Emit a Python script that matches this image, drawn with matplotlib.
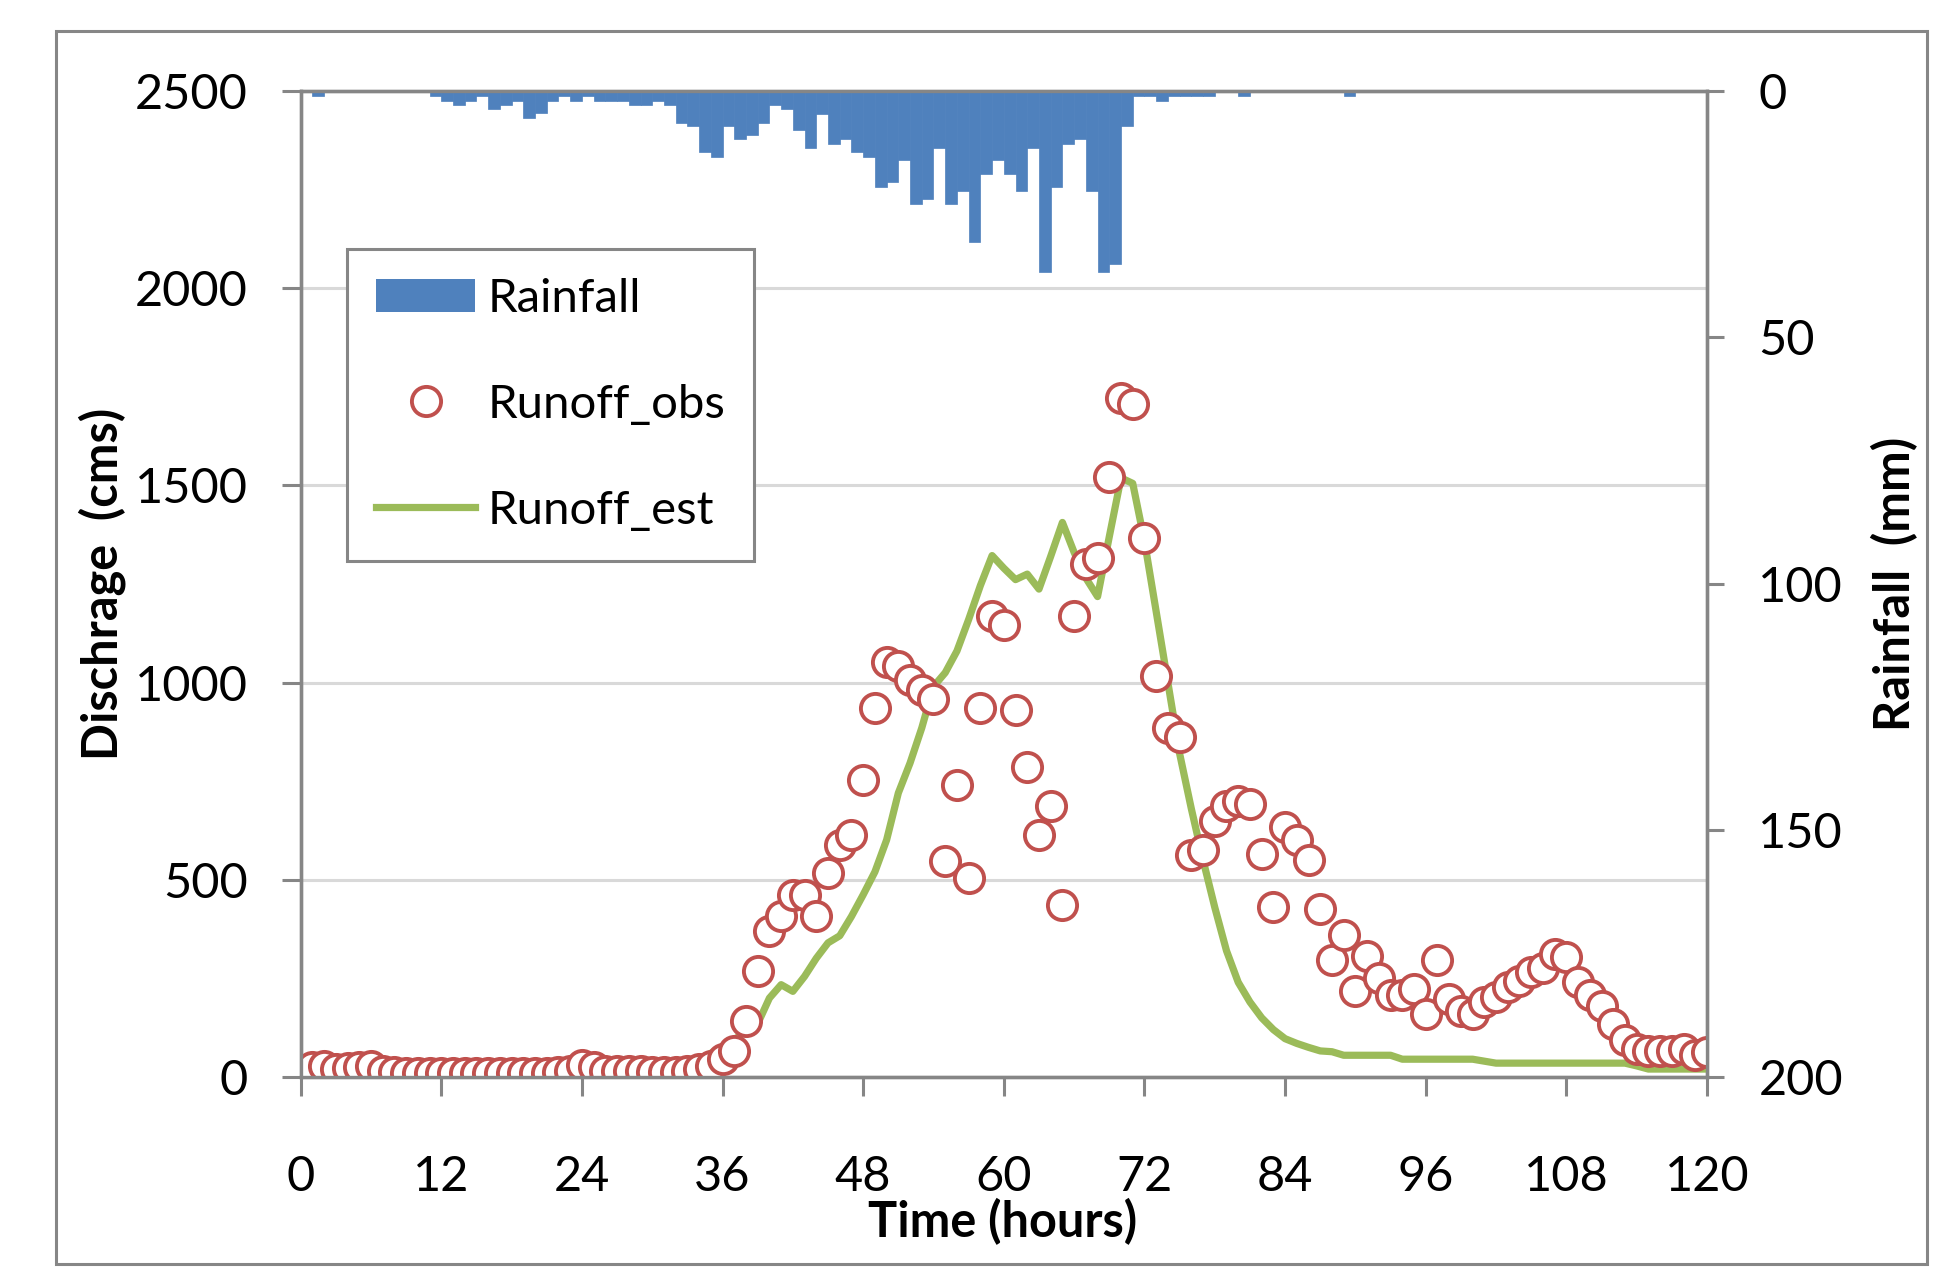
import matplotlib
matplotlib.use("Agg")
import matplotlib.pyplot as plt
from matplotlib.patches import Rectangle, Patch
from matplotlib.lines import Line2D

plt.rcParams['font.family'] = ['Lato', 'DejaVu Sans']

# rainfall (mm) per hour, hours 0..119
rain_hours = list(range(0, 120))
rain_mm = [0, 1.1, 0, 0, 0, 0, 0, 0, 0, 0,
           0, 1.1, 2.0, 2.8, 2.0, 1.1, 3.6, 2.8, 2.0, 5.4,
           4.5, 2.0, 1.1, 2.0, 1.1, 2.0, 2.0, 2.0, 2.8, 2.8,
           2.0, 2.8, 6.4, 7.2, 12.3, 13.3, 7.2, 9.8, 8.9, 6.4,
           2.8, 3.6, 8.0, 11.6, 4.6, 10.7, 9.8, 12.4, 13.3, 19.4,
           18.5, 14.1, 22.9, 22.0, 11.6, 22.9, 20.3, 30.7, 16.8, 14.1,
           16.8, 20.3, 11.6, 36.7, 19.4, 10.7, 9.8, 20.3, 36.7, 35.0,
           7.2, 1.1, 1.1, 2.0, 1.1, 1.1, 1.1, 1.1, 0, 0,
           1.1, 0, 0, 0, 0, 0, 0, 0, 0, 1.1,
           0, 0, 0, 0, 0, 0, 0, 0, 0, 0,
           0, 0, 0, 0, 0, 0, 0, 0, 0, 0,
           0, 0, 0, 0, 0, 0, 0, 0, 0, 0]

# observed runoff (cms), hours 1..120
obs_hours = list(range(1, 121))
obs_cms = [25, 27, 20, 22, 25, 27, 15, 12, 10, 10,
           10, 10, 10, 10, 10, 10, 10, 10, 10, 10,
           10, 12, 15, 30, 25, 15, 15, 14, 14, 13,
           13, 12, 15, 20, 28, 45, 65, 141, 268, 369,
           407, 462, 462, 407, 517, 589, 614, 753, 935, 1053,
           1041, 1007, 981, 958, 548, 739, 504, 935, 1169, 1146,
           931, 787, 614, 686, 437, 1169, 1300, 1316, 1522, 1722,
           1706, 1366, 1016, 884, 862, 563, 575, 650, 688, 700,
           691, 566, 431, 634, 600, 550, 425, 297, 359, 219,
           306, 250, 209, 209, 222, 159, 297, 197, 166, 159,
           191, 203, 228, 244, 266, 275, 313, 303, 241, 209,
           181, 134, 94, 72, 66, 66, 66, 72, 56, 62]

# estimated runoff (cms), hours 0..120
est_hours = list(range(0, 121))
est_cms = [15, 15, 15, 15, 15, 15, 15, 15, 15, 15,
           15, 15, 15, 15, 15, 15, 15, 15, 15, 15,
           15, 15, 25, 40, 40, 25, 15, 15, 15, 15,
           15, 15, 20, 30, 45, 60, 78, 95, 115, 135,
           200, 234, 217, 255, 301, 340, 358, 407, 462, 520,
           601, 720, 796, 885, 990, 1025, 1080, 1160, 1246, 1322,
           1290, 1261, 1275, 1237, 1320, 1406, 1330, 1265, 1218, 1370,
           1519, 1505, 1359, 1180, 1000, 820, 680, 550, 430, 320,
           240, 190, 150, 120, 97, 85, 75, 66, 64, 55,
           55, 55, 55, 55, 45, 45, 45, 45, 45, 45,
           45, 40, 35, 35, 35, 35, 35, 35, 35, 35,
           35, 35, 35, 35, 28, 20, 20, 20, 20, 20,
           20]

gray = '#868686'

fig = plt.figure(figsize=(19.42, 12.67), dpi=100)
ax = fig.add_axes([0.1548, 0.150, 0.7242, 0.7782])

ax.plot(est_hours, est_cms, color='#9BBB59', lw=5.2, zorder=3)
ax.plot(obs_hours, obs_cms, 'o', ms=21, mfc='white', mec='#C0504D', mew=2.8, zorder=4)

ax.set_xlim(0, 120)
ax.set_ylim(0, 2500)
ax.set_xticks(range(0, 121, 12))
ax.set_yticks(range(0, 2501, 500))
ax.yaxis.grid(True, color='#D9D9D9', lw=2.2)
ax.set_axisbelow(True)
ax.tick_params(axis='both', direction='out', length=14, width=2.2, color=gray, labelsize=35)
ax.tick_params(axis='y', pad=24)
ax.tick_params(axis='x', pad=42)

ax.set_xlabel('Time (hours)', fontsize=35, fontweight='bold')
ax.xaxis.set_label_coords(0.4994, -0.147)
ax.xaxis.label.set_va('center')
ax.set_ylabel('Dischrage  (cms)', fontsize=35, fontweight='bold')
ax.yaxis.set_label_coords(-0.141, 0.5)
ax.yaxis.label.set_va('center')

ax2 = ax.twinx()
ax2.bar(rain_hours, rain_mm, width=1.0, align='edge', color='#4F81BD',
        edgecolor='#4F81BD', lw=0.5)
ax2.set_ylim(200, 0)
ax2.set_yticks(range(0, 201, 50))
ax2.tick_params(axis='y', direction='out', length=12, width=2.2, color=gray, labelsize=35, pad=25)
ax2.set_ylabel('Rainfall  (mm)', fontsize=35, fontweight='bold')
ax2.yaxis.set_label_coords(1.1337, 0.5)
ax2.yaxis.label.set_va('center')

for a in (ax, ax2):
    for s in a.spines.values():
        s.set_color(gray)
        s.set_linewidth(2.4)

handles = [Patch(facecolor='#4F81BD', label='Rainfall'),
           Line2D([], [], marker='o', ls='none', ms=21, mfc='white', mec='#C0504D',
                  mew=2.8, label='Runoff_obs'),
           Line2D([], [], color='#9BBB59', lw=5.2, label='Runoff_est')]
leg = ax2.legend(handles=handles, loc='upper left', bbox_to_anchor=(0.033, 0.840),
                 borderaxespad=0, fancybox=False, edgecolor=gray, framealpha=1,
                 fontsize=34, handlelength=2.1, handletextpad=0.25,
                 labelspacing=1.35, borderpad=0.62)
leg.get_frame().set_linewidth(2.2)

# outer chart border
fig.add_artist(Rectangle((56 / 1942, 3 / 1267), 1871 / 1942, 1233 / 1267,
                         transform=fig.transFigure, fill=False, ec=gray, lw=2.2))

fig.savefig('out.png', dpi=100)
